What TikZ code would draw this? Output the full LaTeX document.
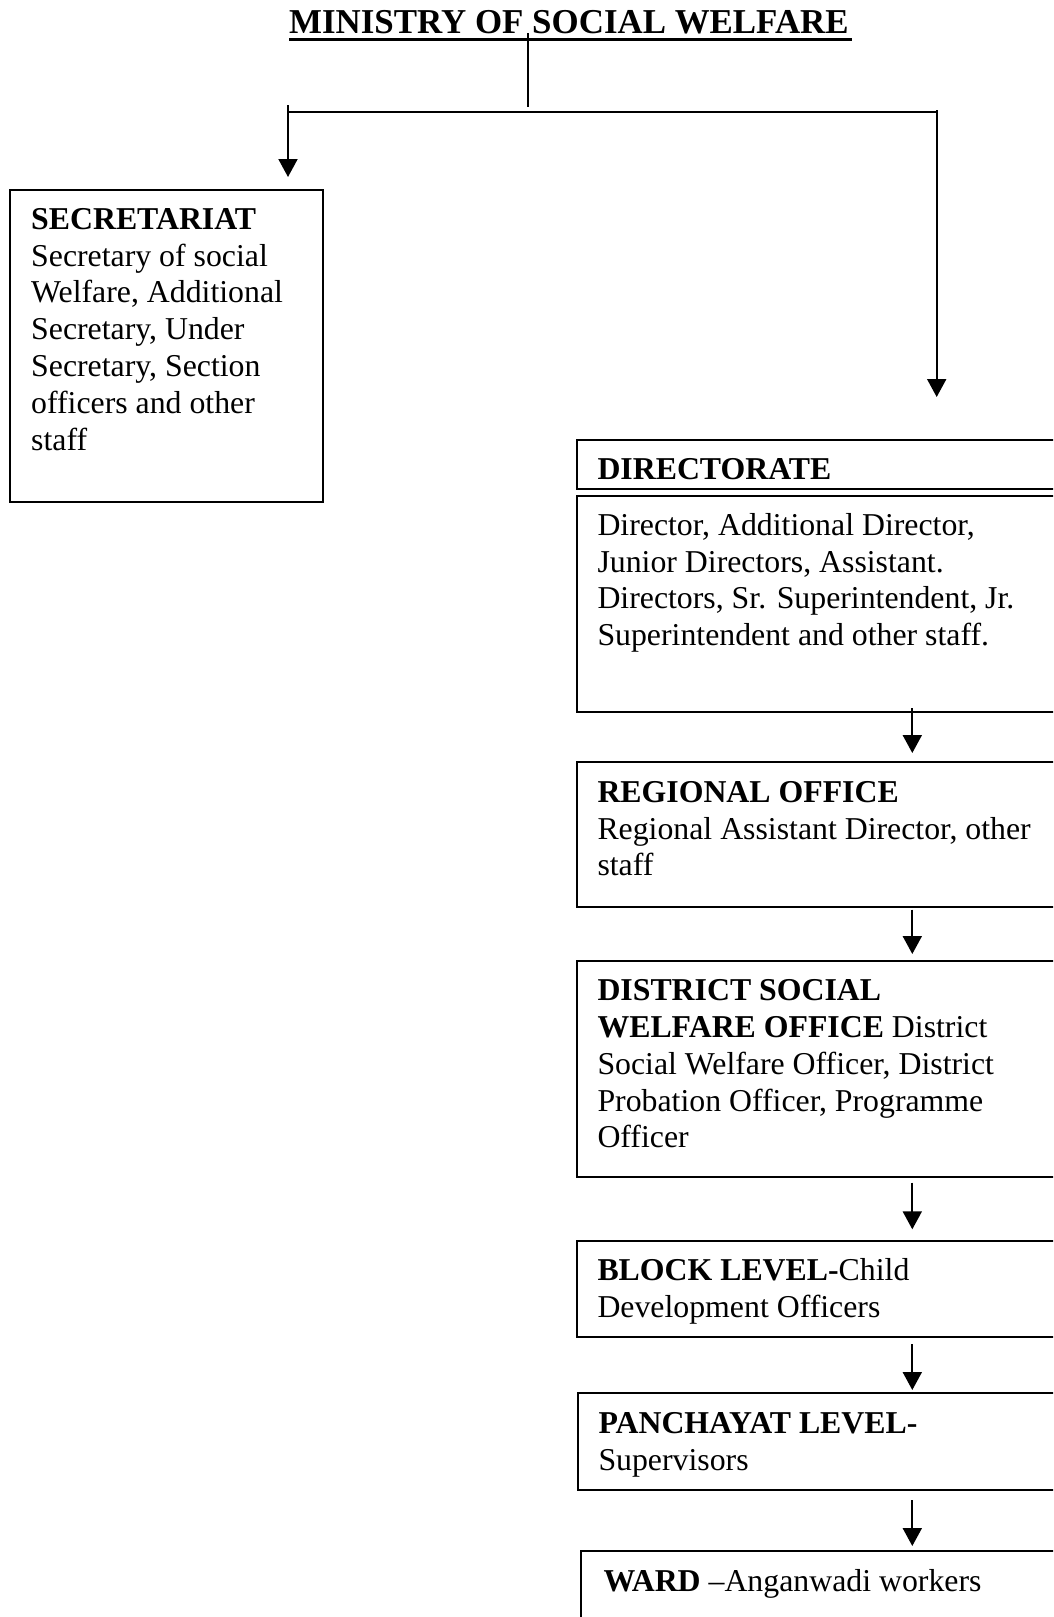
\documentclass[tikz,border=0pt]{standalone}
\usepackage{fontspec}
\setmainfont{Liberation Serif}
\usetikzlibrary{arrows.meta}
\begin{document}
\begin{tikzpicture}[x=1pt,y=-1pt,
  box/.style={draw, line width=2pt, rectangle, inner sep=0pt, anchor=north west},
  txt/.style={anchor=north west, inner sep=0pt, align=left,
              font=\fontsize{31.8}{36.8}\selectfont},
  link/.style={line width=2pt},
  arr/.style={line width=2pt, -{Triangle[width=19pt,length=18pt]}}
]
\useasboundingbox (0,0) rectangle (1053,1617);
\clip (0,0) rectangle (1053,1617);

% heading
\node[anchor=base west, inner sep=0pt,
      font=\fontsize{34.9}{40}\selectfont\bfseries] (title) at (289,33.3)
  {MINISTRY OF SOCIAL WELFARE};
\draw[line width=3.5pt] ([yshift=-6pt]title.base west) -- ([xshift=3pt,yshift=-6pt]title.base east);

% branching connector
\coordinate (ttop) at (528.3,33);
\coordinate (tbot) at (528.3,107);
\coordinate (hl) at (288,112);
\coordinate (hr) at (936.7,112);
\coordinate (ldrop) at (288,105);
\coordinate (rdrop) at (936.7,110);
\coordinate (rtip) at (936.7,397);
\draw[link] (ttop) -- (tbot);
\draw[link] (hl) -- (hr);

% boxes
\node[box, minimum width=313pt, minimum height=312pt] (sec) at (9,189) {};
\node[box, minimum width=524pt, minimum height=49.3pt] (dirhead) at (575.7,439) {};
\node[box, minimum width=524pt, minimum height=215.7pt] (dirbody) at (575.7,495) {};
\node[box, minimum width=524pt, minimum height=144.8pt] (reg) at (575.7,760.7) {};
\node[box, minimum width=524pt, minimum height=215.7pt] (dist) at (575.7,960) {};
\node[box, minimum width=524pt, minimum height=95.7pt] (block) at (575.7,1240.3) {};
\node[box, minimum width=524pt, minimum height=97.3pt] (panch) at (577.3,1391.7) {};
\node[box, minimum width=524pt, minimum height=150pt] (ward) at (580,1550) {};

% box texts
\node[txt] (sectxt) at (31,199) {\rule{0pt}{30pt}\textbf{SECRETARIAT}\\
  Secretary of social\\Welfare, Additional\\Secretary, Under\\
  Secretary, Section\\officers and other\\staff};
\node[txt] (dirheadtxt) at (597.3,449.3) {\rule{0pt}{30pt}\textbf{DIRECTORATE}};
\node[txt] (dirbodytxt) at (597.3,505) {\rule{0pt}{30pt}Director, Additional Director,\\
  Junior Directors, Assistant.\\Directors, Sr. Superintendent, Jr.\\
  Superintendent and other staff.};
\node[txt] (regtxt) at (597.3,772) {\rule{0pt}{30pt}\textbf{REGIONAL OFFICE}\\
  Regional Assistant Director, other\\staff};
\node[txt] (disttxt) at (597.3,970.5) {\rule{0pt}{30pt}\textbf{DISTRICT SOCIAL}\\
  \textbf{WELFARE OFFICE} District\\Social Welfare Officer, District\\
  Probation Officer, Programme\\Officer};
\node[txt] (blocktxt) at (597.3,1250.7) {\rule{0pt}{30pt}\textbf{BLOCK LEVEL-}Child\\
  Development Officers};
\node[txt] (panchtxt) at (598.3,1403.3) {\rule{0pt}{30pt}\textbf{PANCHAYAT LEVEL-}\\
  Supervisors};
\node[txt] (wardtxt) at (603.3,1561) {\rule{0pt}{30pt}\textbf{WARD} –Anganwadi workers};

% arrows
\coordinate (ax) at (912.3,0);
\draw[arr] (ldrop) -- ([yshift=12pt]ldrop |- sec.north);
\draw[arr] (rdrop) -- (rtip);
\draw[arr] ([yshift=4.7pt]dirbody.south -| ax) -- ([yshift=7.7pt]reg.north -| ax);
\draw[arr] ([yshift=-2pt]reg.south -| ax) -- ([yshift=6pt]dist.north -| ax);
\draw[arr] ([yshift=-5pt]dist.south -| ax) -- ([yshift=11pt]block.north -| ax);
\draw[arr] ([yshift=-6.3pt]block.south -| ax) -- ([yshift=1.7pt]panch.north -| ax);
\draw[arr] ([yshift=-9.3pt]panch.south -| ax) -- ([yshift=4pt]ward.north -| ax);
\end{tikzpicture}
\end{document}
